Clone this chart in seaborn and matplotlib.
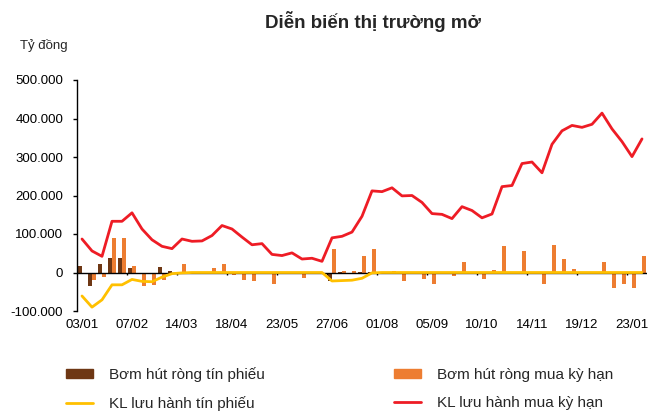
import numpy as np
import pandas as pd
import matplotlib
matplotlib.use("Agg")
import matplotlib.pyplot as plt
import matplotlib.patches as mpatches
import matplotlib.lines as mlines
from matplotlib.ticker import FuncFormatter
import seaborn as sns

# weekly categories, 03/01 -> 30/01 of the following year
weeks = pd.date_range("2022-01-03", periods=57, freq="7D").strftime("%d/%m").tolist()
tick_labels = ["03/01", "07/02", "14/03", "18/04", "23/05", "27/06",
               "01/08", "05/09", "10/10", "14/11", "19/12", "23/01"]

# values in thousand billion dong (x1000 = ty dong)
bills_net = [16, -35, 22, 38, 38, 11, -3, -3, 15, 3,
             0, 0, 0, 0, 0, 0, 0, 0, 0, 0,
             0, 0, 0, 0, 0, -23, 2, -2, 2, 2,
             0, 0, 0, 0, 0, 0, 0, 0, 0, 0,
             0, 0, 0, 0, 0, 0, 0, 0, 0, 0,
             0, 0, 0, 0, 0, 0, 0]
repo_net = [-5, -19, -12, 89, 89, 18, -36, -33, -19, -2,
            21, -5, 0, 12, 22, -7, -19, -22, 0, -29,
            0, 0, -15, 0, 0, 61, 3, 5, 42, 61,
            0, 4, -22, 0, -17, -30, 0, -10, 28, -5,
            -18, 6, 70, 0, 55, 0, -29, 72, 34, 10,
            0, 0, 26, -41, -31, -41, 43]
bills_out = [-61, -90, -71, -32, -32, -18, -23, -24, -12, -3,
             -1, 0, 0, 0, 0, 0, 0, 0, 0, 0,
             0, 0, 0, 0, 0, -22, -21, -20, -15, -1,
             0, 0, 0, 0, 0, 0, 0, 0, 0, 0,
             0, 0, 0, 0, 0, 0, 0, 0, 0, 0,
             0, 0, 0, 0, 0, 0, 0]
repo_out = [87, 56, 42, 133, 133, 155, 113, 85, 68, 62,
            87, 81, 82, 96, 122, 113, 92, 72, 75, 47,
            44, 51, 35, 37, 29, 90, 94, 105, 146, 212,
            210, 220, 199, 200, 182, 153, 151, 140, 171, 161,
            142, 152, 223, 226, 283, 287, 259, 333, 368, 382,
            377, 385, 414, 373, 340, 301, 347]

names = ["Bơm hút ròng tín phiếu", "Bơm hút ròng mua kỳ hạn",
         "KL lưu hành tín phiếu", "KL lưu hành mua kỳ hạn"]
colors = ["#6E3714", "#ED7D31", "#FFC000", "#EE1C25"]

bars = pd.DataFrame({
    "week": weeks * 2,
    "value": np.array(bills_net + repo_net) * 1000,
    "series": [names[0]] * 57 + [names[1]] * 57,
})

sns.set_theme(style="white")
plt.rcParams["font.family"] = ["Liberation Sans", "DejaVu Sans"]

fig = plt.figure(figsize=(6.57, 4.12), dpi=100)
ax = fig.add_axes([77 / 657, 1 - 311 / 412, 570 / 657, 231 / 412])

sns.barplot(data=bars, x="week", y="value", hue="series", order=weeks,
            hue_order=names[:2], palette=colors[:2], width=0.8,
            linewidth=0, saturation=1, legend=False, ax=ax)
ax.axhline(0, color="black", lw=1, zorder=1.5)
idx = np.arange(len(weeks))
sns.lineplot(x=idx, y=np.array(bills_out) * 1000, color=colors[2], lw=2, ax=ax)
sns.lineplot(x=idx, y=np.array(repo_out) * 1000, color=colors[3], lw=2, ax=ax)

ax.set_xlim(-0.5, len(weeks) - 0.5)
ax.set_ylim(-100000, 500000)
ax.set_yticks(np.arange(-100000, 500001, 100000))
ax.yaxis.set_major_formatter(FuncFormatter(lambda v, p: f"{v:,.0f}".replace(",", ".")))
ax.set_xticks(idx[::5], tick_labels)
ax.tick_params(axis="x", length=0, pad=6, labelsize=9.5, colors="black")
ax.tick_params(axis="y", length=3, width=1, left=True, pad=7, labelsize=9.5, colors="black")
ax.set_xlabel("")
ax.set_ylabel("")
for s in ["top", "right", "bottom"]:
    ax.spines[s].set_visible(False)
ax.spines["left"].set_color("black")
ax.spines["left"].set_linewidth(1)
# small ticks on the zero line
ax.vlines(np.arange(4.5, 56, 5), -6000, 0, color="black", lw=1, zorder=1.5)

fig.text(0.568, 1 - 22 / 412, "Diễn biến thị trường mở", ha="center", va="center",
         fontsize=13.5, fontweight="bold")
fig.text(20 / 657, 1 - 45 / 412, "Tỷ đồng", ha="left", va="center", fontsize=9.5)

handles = [mpatches.Patch(color=colors[0]), mlines.Line2D([], [], color=colors[2], lw=2),
           mpatches.Patch(color=colors[1]), mlines.Line2D([], [], color=colors[3], lw=2)]
labels = [names[0], names[2], names[1], names[3]]
fig.legend(handles, labels, ncol=2, loc="center left", bbox_to_anchor=(52 / 657, 1 - 389 / 412),
           frameon=False, fontsize=11, handlelength=1.8, handleheight=0.5,
           handletextpad=1.05, columnspacing=8.4, labelspacing=0.9)

fig.savefig("out.png", dpi=100)
